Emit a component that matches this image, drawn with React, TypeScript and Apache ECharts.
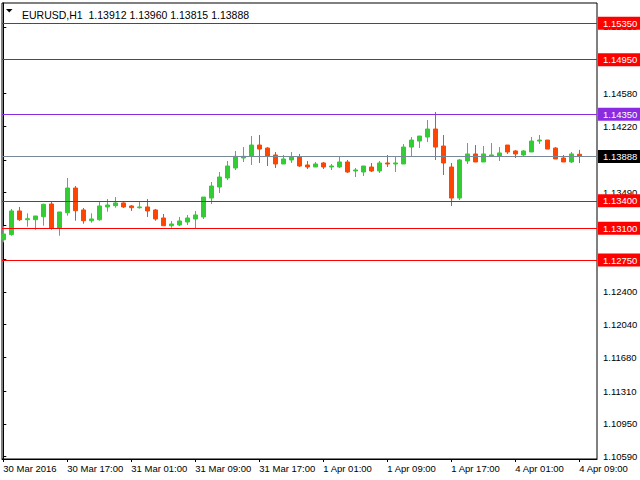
import { useEffect, useRef } from 'react';
import * as echarts from 'echarts';

const symbolName = 'EURUSD,H1';

// hourly candles, 30 Mar 2016 09:00 .. 4 Apr 2016 09:00
const opens = [
  1.12973, 1.1303, 1.13289, 1.13193, 1.13193, 1.13226, 1.13366, 1.13102, 1.1327, 1.13541,
  1.133, 1.13182, 1.13193, 1.13333, 1.13347, 1.13377, 1.13344, 1.13325, 1.13333, 1.133,
  1.13212, 1.13127, 1.13135, 1.13168, 1.13201, 1.13223, 1.13431, 1.13552, 1.13651, 1.13761,
  1.13871, 1.13889, 1.14013, 1.1398, 1.13904, 1.13805, 1.13849, 1.13882, 1.13794, 1.13772,
  1.13816, 1.13772, 1.13772, 1.13827, 1.13728, 1.13717, 1.13772, 1.13728, 1.13816, 1.13805,
  1.13805, 1.13991, 1.14057, 1.14101, 1.14189, 1.14002, 1.13772, 1.13431, 1.13838, 1.13915,
  1.13827, 1.13893, 1.13893, 1.14013, 1.13948, 1.13904, 1.13937, 1.14057, 1.14068, 1.1398,
  1.13871, 1.13827, 1.13912,
];
const closes = [
  1.13036, 1.13289, 1.13193, 1.13204, 1.13234, 1.13362, 1.13102, 1.13278, 1.13541, 1.13292,
  1.13182, 1.13201, 1.13344, 1.13355, 1.13377, 1.13333, 1.13325, 1.13333, 1.13289, 1.13201,
  1.13127, 1.13146, 1.13179, 1.13212, 1.13245, 1.13442, 1.13563, 1.13662, 1.13783, 1.13889,
  1.13889, 1.14013, 1.13969, 1.13893, 1.13805, 1.1386, 1.13882, 1.13783, 1.13772, 1.13805,
  1.13772, 1.13783, 1.13827, 1.13717, 1.13739, 1.13783, 1.13728, 1.13816, 1.13805, 1.13816,
  1.13991, 1.14068, 1.14112, 1.14189, 1.13991, 1.13816, 1.13431, 1.13849, 1.13915, 1.13827,
  1.13915, 1.13904, 1.13926, 1.13937, 1.13915, 1.13948, 1.14057, 1.14068, 1.13969, 1.1386,
  1.13827, 1.13915, 1.13888,
];
const lows = [
  1.12945, 1.13017, 1.13179, 1.13116, 1.13083, 1.13127, 1.13083, 1.13017, 1.13237, 1.13182,
  1.13149, 1.1316, 1.13182, 1.13281, 1.13325, 1.13322, 1.13289, 1.13314, 1.13223, 1.13182,
  1.13127, 1.13105, 1.13124, 1.13135, 1.13102, 1.13201, 1.13366, 1.13486, 1.13629, 1.13739,
  1.13827, 1.13794, 1.13816, 1.13783, 1.13761, 1.13805, 1.13816, 1.13772, 1.1375, 1.13772,
  1.1375, 1.13739, 1.13761, 1.13706, 1.13662, 1.13673, 1.13717, 1.13706, 1.13772, 1.13717,
  1.13805, 1.13893, 1.1398, 1.14046, 1.13849, 1.13684, 1.13344, 1.13409, 1.13805, 1.13827,
  1.13827, 1.13882, 1.13838, 1.13915, 1.13871, 1.13893, 1.13937, 1.14024, 1.13969, 1.1386,
  1.13827, 1.13816, 1.13815,
];
const highs = [
  1.13121, 1.13311, 1.13333, 1.13263, 1.13234, 1.13369, 1.13391, 1.13278, 1.13651, 1.13563,
  1.13322, 1.13263, 1.13391, 1.1342, 1.13442, 1.13384, 1.13355, 1.13391, 1.1342, 1.13311,
  1.13256, 1.13179, 1.13223, 1.13245, 1.13289, 1.13442, 1.13607, 1.13717, 1.13838, 1.13948,
  1.13991, 1.14112, 1.14123, 1.13991, 1.13937, 1.13904, 1.13937, 1.13915, 1.13838, 1.13827,
  1.13827, 1.13805, 1.13882, 1.13849, 1.13761, 1.13783, 1.13816, 1.13838, 1.13904, 1.13893,
  1.14024, 1.14101, 1.14112, 1.14288, 1.14376, 1.14123, 1.13816, 1.1386, 1.14035, 1.14013,
  1.14002, 1.14035, 1.13991, 1.14013, 1.13958, 1.13958, 1.14101, 1.14123, 1.14068, 1.13991,
  1.13904, 1.13937, 1.1396,
];

const xTickIndex = [0, 8, 16, 24, 32, 40, 48, 56, 64, 72];
const xTickLabels = [
  '30 Mar 2016', '30 Mar 17:00', '31 Mar 01:00', '31 Mar 09:00', '31 Mar 17:00',
  '1 Apr 01:00', '1 Apr 09:00', '1 Apr 17:00', '4 Apr 01:00', '4 Apr 09:00',
];
// all price-scale ticks
const yTickValues = [
  1.1531, 1.1495, 1.1458, 1.1422, 1.1385, 1.1349, 1.1313, 1.1276, 1.124, 1.1204,
  1.1168, 1.1131, 1.1095, 1.1059,
];
// tick labels left visible (the others are covered by the level tags)
const yLabelValues = [1.1531, 1.1458, 1.1422, 1.1349, 1.124, 1.1204, 1.1168, 1.1131, 1.1095, 1.1059];

const levelValues = [1.1535, 1.1495, 1.1435, 1.13888, 1.134, 1.131, 1.1275];
const levelKinds = ['res', 'res', 'pivot', 'bid', 'sup', 'sup', 'sup'];

const kindStyle: Record<string, { line: string; bg: string }> = {
  res: { line: '#ff0000', bg: '#ff0000' },
  sup: { line: '#ff0000', bg: '#ff0000' },
  pivot: { line: '#8a2be2', bg: '#8a2be2' },
  bid: { line: '#778899', bg: '#000000' },
};

const FONT = 'Tahoma, "Liberation Sans", Arial, sans-serif';

export default function App() {
  const ref = useRef<HTMLDivElement>(null);
  useEffect(() => {
    document.body.style.margin = '0';
    const chart = echarts.init(ref.current!, null, { renderer: 'svg' });
    const candles = opens.map((o, i) => [i, o, closes[i], lows[i], highs[i]]);
    const last = candles[candles.length - 1];
    const header =
      symbolName + '\u00a0 ' + [last[1], last[4], last[3], last[2]].map((v) => v.toFixed(5)).join(' ');

    chart.setOption({
      animation: false,
      backgroundColor: '#ffffff',
      title: {
        text: header,
        left: 17,
        top: 4,
        textStyle: { fontFamily: FONT, fontSize: 10.5, fontWeight: 'normal', color: '#000' },
      },
      graphic: [
        {
          type: 'polygon',
          shape: { points: [[6, 9], [12.5, 9], [9.25, 12.5]] },
          style: { fill: '#000' },
        },
      ],
      grid: {
        left: 2,
        top: 3,
        right: 43,
        bottom: 21,
        show: true,
        borderColor: '#000',
        borderWidth: 1,
        outerBoundsMode: 'none',
        containLabel: false,
      },
      xAxis: {
        type: 'value',
        min: -0.1625,
        max: 74.2125,
        splitLine: { show: false },
        axisLine: { show: true, lineStyle: { color: '#000' } },
        axisTick: { show: true, customValues: xTickIndex, length: 3, lineStyle: { color: '#000' } },
        axisLabel: {
          customValues: xTickIndex,
          formatter: (v: number) => xTickLabels[xTickIndex.indexOf(Math.round(v))] ?? '',
          align: 'left',
          margin: 4,
          fontFamily: FONT,
          fontSize: 9.5,
          color: '#000',
        },
      },
      yAxis: {
        type: 'value',
        position: 'right',
        min: 1.10565,
        max: 1.15573,
        scale: true,
        splitLine: { show: false },
        axisLine: { show: true, lineStyle: { color: '#000' } },
        axisTick: { show: true, customValues: yTickValues, length: 3, lineStyle: { color: '#000' } },
        axisLabel: {
          customValues: yLabelValues,
          formatter: (v: number) => v.toFixed(5),
          margin: 6,
          fontFamily: FONT,
          fontSize: 9.5,
          color: '#000',
        },
      },
      series: [
        {
          type: 'candlestick',
          layout: 'horizontal',
          data: candles,
          encode: { x: 0, y: [1, 2, 3, 4] },
          barWidth: 4,
          clip: true,
          itemStyle: {
            color: '#32cd32',
            color0: '#ff4500',
            borderColor: '#32cd32',
            borderColor0: '#ff4500',
            borderWidth: 1,
          },
          emphasis: { disabled: true },
          markLine: {
            silent: true,
            symbol: 'none',
            precision: 5,
            animation: false,
            data: levelValues.map((v, i) => {
              const st = kindStyle[levelKinds[i]];
              return {
                name: v.toFixed(5),
                yAxis: v,
                lineStyle: { color: st.line, width: 1, type: 'solid' },
                label: {
                  show: true,
                  position: 'end',
                  formatter: '{b}',
                  distance: 1,
                  color: '#fff',
                  backgroundColor: st.bg,
                  padding: [1, 6, 1, 5],
                  lineHeight: 11,
                  fontFamily: FONT,
                  fontSize: 9.5,
                },
              };
            }),
          },
        },
      ],
    });
    return () => chart.dispose();
  }, []);
  return <div ref={ref} style={{ width: 640, height: 480 }} />;
}
